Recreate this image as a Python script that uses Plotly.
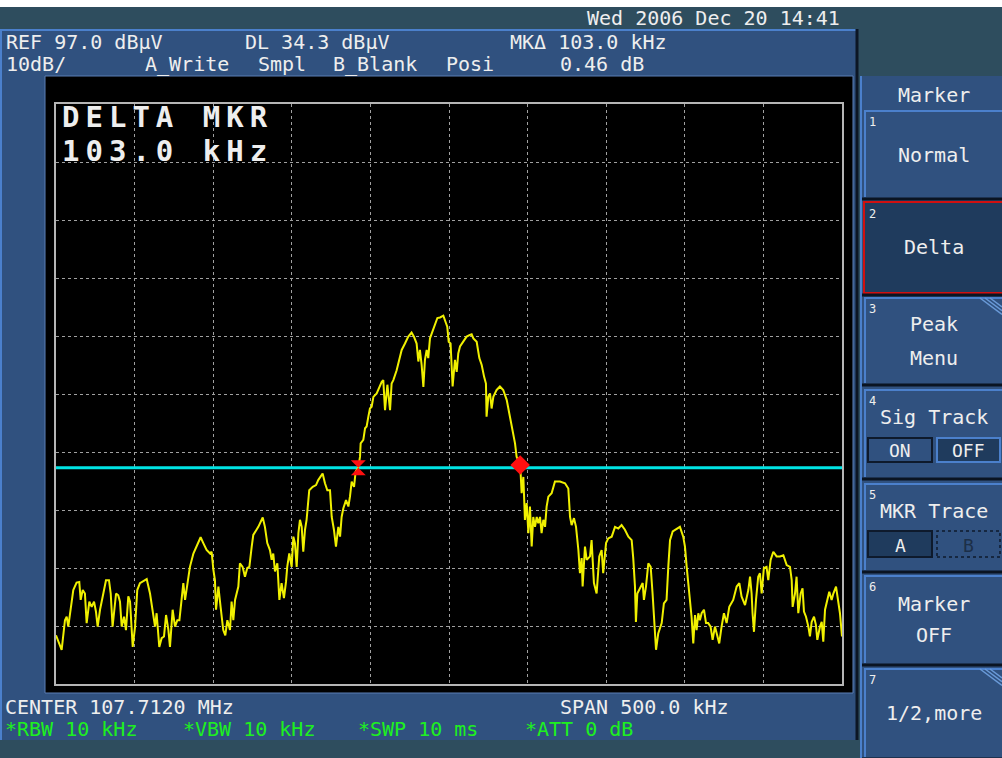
import plotly.graph_objects as go

CENTER_MHZ = 107.7120
SPAN_KHZ = 500.0
REF_DBUV = 97.0
DB_PER_DIV = 10.0
DL_DBUV = 34.3
MKR_DELTA_KHZ = 103.0
MKR_DELTA_DB = 0.46
MKR1_OFFSET_KHZ = 192.3   # marker 1 position, kHz from left edge of span

# trace A: frequency offset from left edge of span (kHz) and level (dBuV)
freq_offset_khz = [
    0, 3.6, 5.7, 6.8, 7.8, 8.9, 11.0, 13.1, 14.8, 15.7,
    17.0, 18.4, 19.5, 21.2, 22.7, 24.2, 25.4, 26.5, 28.0, 30.1,
    31.8, 33.7, 34.8, 36.0, 38.2, 39.6, 40.7, 41.8, 43.3, 44.5,
    46.0, 47.1, 48.8, 50.3, 51.7, 53.4, 57.7, 59.8, 61.5, 63.0,
    64.0, 65.7, 67.2, 68.7, 70.0, 71.5, 72.5, 74.2, 75.7, 77.2,
    78.5, 79.9, 81.0, 82.1, 83.5, 85.2, 87.4, 89.5, 92.0, 93.7,
    95.8, 98.0, 99.0, 100.1, 101.1, 101.8, 103.3, 104.7, 106.4, 107.7,
    109.0, 110.7, 111.7, 112.8, 113.9, 116.0, 117.0, 118.7, 120.2, 121.7,
    123.0, 124.5, 125.5, 128.7, 131.5, 132.9, 134.4, 136.1, 137.2, 138.2,
    139.3, 140.8, 142.1, 143.5, 145.0, 146.3, 147.1, 148.4, 149.9, 151.0,
    152.0, 153.1, 154.2, 155.2, 156.3, 157.3, 158.4, 159.4, 161.1, 163.3,
    165.4, 166.9, 169.6, 171.1, 172.6, 174.3, 175.4, 176.8, 178.1, 179.6,
    180.7, 181.7, 182.8, 184.5, 186.0, 187.0, 188.1, 189.6, 190.6,
    192.3, 193.4, 193.8, 195.5, 196.6, 197.6, 198.7, 199.7, 200.8, 201.9,
    204.0, 205.7, 207.2, 208.2, 209.3, 210.8, 212.5, 213.5, 214.6, 216.7,
    218.4, 219.9, 222.0, 224.1, 226.2, 227.7, 229.4, 230.5, 231.5, 232.6,
    233.7, 234.7, 235.8, 236.8, 237.9, 239.6, 241.1, 242.6, 244.3, 246.4,
    248.1, 248.9, 249.8, 251.0, 252.3, 253.8, 254.9, 255.9, 257.0, 259.1,
    261.2, 263.3, 264.4, 265.5, 267.6, 269.3, 270.8, 272.3, 273.5, 273.9,
    275.0, 276.1, 277.1, 278.2, 280.3, 282.4, 284.5, 286.7, 288.8, 290.5,
    292.0, 293.0, 294.1, 295.3,
    296.2, 297.3, 298.3, 299.4, 300.5, 301.5, 302.6, 303.6, 304.7, 305.8,
    306.8, 307.9, 308.9, 310.0, 311.1, 312.1, 313.2, 315.3, 317.4, 319.5,
    320.6, 323.8, 325.9, 327.0, 328.0, 329.5, 330.8, 332.3, 333.3, 334.4,
    335.0, 336.5, 337.6, 339.7, 340.7, 342.2, 343.9, 345.6, 347.1, 348.1,
    349.9, 351.3, 353.5, 355.6, 357.7, 359.8, 361.9, 364.1, 366.2, 367.2,
    368.3, 368.9, 369.8, 371.5, 373.2, 374.0, 375.3, 376.8, 378.3, 379.5,
    380.4, 381.7, 383.1, 385.3, 386.7, 388.4, 389.5, 390.6, 392.3, 394.8,
    396.9, 399.0, 400.1, 401.2, 402.9, 404.3, 405.4, 406.5, 407.5, 408.6,
    409.6, 410.7, 412.2, 413.5, 414.9, 416.4, 417.7, 419.2, 420.3, 421.9,
    423.4, 424.9, 426.6, 428.3, 430.8, 433.0, 434.7, 436.1, 438.3, 440.4,
    441.5, 442.5, 443.1, 444.0, 445.3, 446.7, 447.8, 448.9, 450.3, 452.0,
    453.1, 454.6, 456.3, 458.4, 460.5, 462.7, 464.8, 466.9, 468.0, 468.6,
    470.1, 471.1, 472.2, 473.7, 474.9, 475.8, 477.1, 478.6, 479.6, 480.7,
    482.2, 483.4, 484.3, 486.0, 487.1, 488.1, 489.2, 490.6, 491.9, 493.4,
    494.5, 496.2, 497.6, 498.7, 500.0,
]
level_dbuv = [
    5.4, 2.9, 8.0, 8.6, 6.9, 9.2, 13.2, 14.5, 14.6, 11.5,
    13.2, 12.6, 7.5, 11.2, 10.3, 11.2, 9.5, 6.9, 9.8, 12.6,
    14.9, 14.9, 12.6, 6.9, 12.6, 12.3, 11.2, 6.9, 8.6, 6.3,
    12.1, 11.2, 3.4, 6.9, 13.2, 14.4, 15.1, 12.6, 9.5, 6.9,
    9.2, 3.4, 4.9, 5.2, 8.9, 6.3, 3.4, 9.8, 6.9, 8.0,
    8.0, 12.1, 14.4, 11.5, 14.4, 17.2, 19.5, 20.7, 22.3, 21.3,
    20.1, 19.5, 19.8, 16.7, 14.9, 9.8, 13.8, 10.3, 6.3, 5.4,
    8.0, 6.3, 11.2, 8.0, 11.5, 13.8, 17.8, 17.2, 15.5, 17.0,
    17.2, 20.7, 22.7, 24.1, 25.7, 24.1, 21.3, 20.1, 18.4, 19.5,
    16.4, 17.8, 11.5, 14.4, 11.8, 14.6, 17.2, 19.5, 17.2, 22.4,
    21.3, 17.2, 23.0, 25.3, 24.1, 19.8, 23.6, 25.3, 30.4, 31.0,
    31.3, 32.2, 33.3, 31.6, 30.4, 30.4, 25.8, 23.6, 20.7, 24.1,
    22.4, 25.8, 27.3, 28.7, 27.6, 29.3, 31.9, 31.0, 33.6,
    34.3, 36.2, 38.5, 39.1, 41.1, 41.4, 43.1, 44.5, 44.8, 46.5,
    47.1, 48.3, 49.1, 49.4, 44.2, 48.6, 44.2, 48.8, 49.4, 51.1,
    53.2, 54.6, 55.7, 56.9, 57.6, 56.9, 55.7, 52.6, 54.6, 52.0,
    48.2, 52.9, 54.6, 53.2, 56.6, 58.0, 59.2, 60.1, 60.2, 60.5,
    59.2, 58.6, 56.0, 55.7, 48.3, 52.9, 50.8, 54.0, 55.2, 56.0,
    56.9, 57.2, 57.3, 56.6, 56.0, 53.2, 52.0, 50.0, 48.8, 43.1,
    46.5, 47.1, 44.5, 46.5, 47.7, 48.3, 47.7, 46.0, 43.1, 40.2,
    38.5, 36.2, 35.5, 34.8,
    29.9, 32.7, 25.3, 28.2, 23.0, 27.6, 20.7, 25.8, 24.1, 25.8,
    24.7, 25.8, 23.0, 25.3, 24.1, 27.6, 29.3, 29.9, 31.9, 31.9,
    31.9, 31.6, 30.7, 25.8, 24.4, 25.6, 24.1, 20.1, 16.1, 18.7,
    13.8, 20.7, 18.4, 19.0, 21.8, 14.4, 12.6, 19.0, 20.1, 16.1,
    21.3, 22.1, 22.4, 24.1, 23.8, 24.4, 23.6, 22.4, 21.8, 18.7,
    13.8, 7.7, 12.6, 13.5, 14.4, 11.5, 13.8, 17.8, 17.2, 12.6,
    8.9, 2.9, 5.7, 7.5, 10.9, 11.5, 17.2, 21.8, 23.3, 23.8,
    24.1, 22.4, 20.7, 17.2, 12.6, 8.6, 4.0, 8.9, 6.3, 9.2,
    8.0, 9.2, 9.8, 7.5, 7.5, 6.9, 4.6, 6.9, 5.7, 4.0,
    6.9, 9.2, 7.5, 10.3, 11.5, 13.8, 14.4, 12.1, 10.6, 13.2,
    15.5, 12.6, 9.2, 6.0, 11.5, 15.5, 16.1, 12.6, 17.0, 17.2,
    14.9, 18.4, 19.8, 19.0, 19.0, 19.2, 17.5, 17.2, 14.9, 10.3,
    12.6, 15.5, 9.2, 12.6, 13.5, 9.5, 8.6, 6.9, 5.2, 7.7,
    8.6, 7.2, 4.6, 6.9, 7.7, 4.3, 9.8, 11.5, 12.9, 11.5,
    12.6, 13.8, 10.9, 9.2, 5.2,
]
assert len(freq_offset_khz) == len(level_dbuv)

# ---------------- derived scales ----------------
start_mhz = CENTER_MHZ - SPAN_KHZ / 2000.0
stop_mhz = CENTER_MHZ + SPAN_KHZ / 2000.0
bottom_dbuv = REF_DBUV - 10 * DB_PER_DIV
freq_mhz = [start_mhz + f / 1000.0 for f in freq_offset_khz]
mkr_freq = [start_mhz + MKR1_OFFSET_KHZ / 1000.0,
            start_mhz + (MKR1_OFFSET_KHZ + MKR_DELTA_KHZ) / 1000.0]
mkr_level = [DL_DBUV, DL_DBUV + MKR_DELTA_DB]

# ---------------- page geometry (pixels) ----------------
W, H = 1002, 758
L, R, T, B = 56, 842, 104, 684


def px(x):
    return (x - L) / (R - L)


def py(y):
    return (B - y) / (B - T)


TEAL = "#2e4d5e"
PANEL = "#30517f"
LIGHT = "#4b80cc"
DARKBTN = "#1f3b5d"
WHITE = "#eeeeee"
GREEN = "#1ef01e"
MONO = "DejaVu Sans Mono"

shapes = []


def rect(x0, y0, x1, y1, fill, lc=None, lw=0, dash=None):
    shapes.append(dict(type="rect", xref="paper", yref="paper",
                       x0=px(x0), x1=px(x1), y0=py(y1), y1=py(y0),
                       fillcolor=fill,
                       line=dict(color=lc or fill, width=lw, dash=dash or "solid"),
                       layer="below"))


def seg(x0, y0, x1, y1, color, w=2):
    shapes.append(dict(type="line", xref="paper", yref="paper",
                       x0=px(x0), x1=px(x1), y0=py(y0), y1=py(y1),
                       line=dict(color=color, width=w), layer="below"))


annotations = []


def text(x, y, s, size=20, color=WHITE, anchor="left", family=MONO):
    annotations.append(dict(xref="paper", yref="paper", x=px(x), y=py(y),
                            text=s, showarrow=False, xanchor=anchor,
                            yanchor="middle",
                            font=dict(family=family, size=size, color=color)))


# background panels
rect(0, 0, W, 7, "white")
rect(0, 29, 857, 740, PANEL)
seg(0, 30, 857, 30, LIGHT, 2)
seg(1, 30, 1, 740, LIGHT, 2)
seg(857, 29, 857, 740, "#0c1624", 3)
rect(45, 76, 853, 693, "black", "#5b7fb5", 1)

# softkey column
rect(860, 76, W, H, PANEL)
seg(861, 76, 861, H, LIGHT, 2)
buttons = [(110, 197), (202, 293), (297, 383), (389, 477),
           (483, 570), (575, 663), (668, 757)]
for i, (t, b) in enumerate(buttons):
    if i == 1:
        rect(864, t, W + 2, b, DARKBTN, "#d01010", 2)
    else:
        rect(864, t, W, b, PANEL)
        seg(864, t + 1, W, t + 1, LIGHT, 2)
        seg(865, t, 865, b, LIGHT, 2)
    seg(862, b + 2, W, b + 2, "#0a1422", 3)

# submenu corner stripes (buttons 3 and 7)
for top in (297, 668):
    for k in range(3):
        seg(980 + 5 * k, top + 1, 1002, top + 1 + (22 - 5 * k) * 0.75, "#6a9ad8", 1.5)

# ON / OFF and A / B boxes
rect(868, 438, 932, 462, PANEL, "#0e1a2c", 2)
rect(937, 438, 1000, 462, DARKBTN, LIGHT, 2)
rect(868, 531, 932, 557, DARKBTN, "#0e1a2c", 2)
rect(937, 531, 1000, 557, PANEL, "#0e1a2c", 1.5, "dot")

# ---------------- header / footer texts ----------------
text(585, 18, "Wed 2006 Dec 20 14:41")
text(4, 42, "REF 97.0 dBµV")
text(243, 42, "DL 34.3 dBµV")
text(508, 42, "MKΔ 103.0 kHz")
text(4, 64, "10dB/")
text(143, 64, "A_Write")
text(256, 64, "Smpl")
text(331, 64, "B_Blank")
text(444, 64, "Posi")
text(558, 64, "0.46 dB")

text(3, 707, "CENTER 107.7120 MHz")
text(558, 707, "SPAN 500.0 kHz")
text(3, 729, "*RBW 10 kHz", color=GREEN)
text(181, 729, "*VBW 10 kHz", color=GREEN)
text(356, 729, "*SWP 10 ms", color=GREEN)
text(523, 729, "*ATT 0 dB", color=GREEN)

# in-graticule readout (wide-spaced large characters)
WIDE = '<b><span style="letter-spacing:6px">%s</span></b>'
text(60, 117, WIDE % "DELTA MKR", size=29)
text(60, 151, WIDE % "103.0 kHz", size=29)

# softkey labels
CX = 934
text(CX, 95, "Marker", anchor="center")
for n, (t, _) in enumerate(buttons, start=1):
    text(867, t + 12, str(n), size=12)
text(CX, 155, "Normal", anchor="center")
text(CX, 247, "Delta", anchor="center")
text(CX, 324, "Peak", anchor="center")
text(CX, 358, "Menu", anchor="center")
text(CX, 417, "Sig Track", anchor="center")
text(900, 451, "ON", size=18, anchor="center")
text(968, 451, "OFF", size=18, anchor="center")
text(CX, 511, "MKR Trace", anchor="center")
text(900, 545, "A", size=18, anchor="center")
text(968, 545, "B", size=18, color="#1c2f48", anchor="center")
text(CX, 604, "Marker", anchor="center")
text(CX, 635, "OFF", anchor="center")
text(CX, 713, "1/2,more", anchor="center")

# ---------------- traces ----------------
fig = go.Figure()
fig.add_trace(go.Scatter(x=[start_mhz, stop_mhz], y=[DL_DBUV, DL_DBUV],
                         mode="lines", line=dict(color="#00e4e4", width=3),
                         hoverinfo="skip", showlegend=False))
fig.add_trace(go.Scatter(x=freq_mhz, y=level_dbuv, mode="lines",
                         line=dict(color="#f0f000", width=2),
                         showlegend=False, name="A_Write"))
fig.add_trace(go.Scatter(x=[mkr_freq[0]], y=[mkr_level[0]], mode="markers",
                         marker=dict(symbol="hourglass", size=15, color="#ff1010"),
                         showlegend=False))
fig.add_trace(go.Scatter(x=[mkr_freq[1]], y=[mkr_level[1]], mode="markers",
                         marker=dict(symbol="diamond", size=15, color="#ff1010"),
                         showlegend=False))

fig.update_layout(
    width=W, height=H,
    margin=dict(l=L, r=W - R, t=T, b=H - B, pad=0),
    paper_bgcolor=TEAL,
    plot_bgcolor="rgba(0,0,0,0)",
    shapes=shapes,
    annotations=annotations,
    xaxis=dict(range=[start_mhz, stop_mhz], tick0=start_mhz,
               dtick=SPAN_KHZ / 10000.0, showgrid=True, gridcolor="#a0a0a0",
               griddash="dot", gridwidth=1, showticklabels=False, ticks="",
               zeroline=False, showline=True, mirror=True,
               linecolor="#b5b5b5", linewidth=2, fixedrange=True),
    yaxis=dict(range=[bottom_dbuv, REF_DBUV], tick0=bottom_dbuv,
               dtick=DB_PER_DIV, showgrid=True, gridcolor="#a0a0a0",
               griddash="dot", gridwidth=1, showticklabels=False, ticks="",
               zeroline=False, showline=True, mirror=True,
               linecolor="#b5b5b5", linewidth=2, fixedrange=True),
)

fig.write_html("out.html", config={"displayModeBar": False},
               post_script="document.body.style.margin='0px';")
